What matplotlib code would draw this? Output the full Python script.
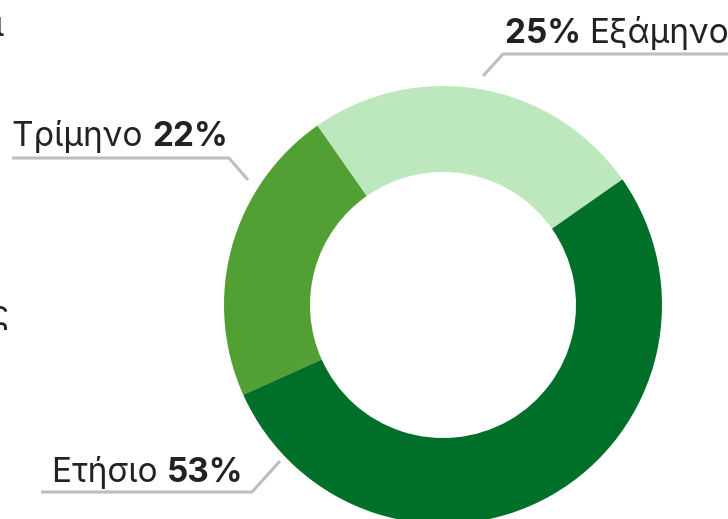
import matplotlib
matplotlib.use("Agg")
import matplotlib.pyplot as plt

# Data
categories = ["Εξάμηνο", "Τρίμηνο", "Ετήσιο"]
values = [25, 22, 53]
colors = ["#BDE8BE", "#529F33", "#006F29"]

W, H = 728, 519
fig = plt.figure(figsize=(W / 100, H / 100), dpi=100)
ax = fig.add_axes([0, 0, 1, 1])

def Y(y):
    return H - y

ax.pie(values, colors=colors, startangle=35, counterclock=True,
       center=(443, Y(305)), radius=219,
       wedgeprops=dict(width=219 - 133, linewidth=0))
ax.set_xlim(0, W)
ax.set_ylim(0, H)
ax.set_aspect("equal")
ax.axis("off")

FONT = ["Inter", "DejaVu Sans"]
TXT = "#222222"
LINE = "#B9BFC5"
FS = 24
GAP = 0

def label(x, y, parts):
    cur = x
    for s, w in parts:
        t = ax.text(cur, Y(y), s, fontsize=FS, fontweight=w, family=FONT,
                    color=TXT, ha="left", va="baseline")
        fig.canvas.draw()
        bb = t.get_window_extent()
        cur = bb.x1 + GAP

# Τρίμηνο 22%
label(12, 146, [("Τρίμηνο ", "normal"), ("22%", "bold")])
ax.plot([12, 229, 248], [Y(158), Y(158), Y(180)], color=LINE, lw=2.2,
        solid_capstyle="butt")

# Ετήσιο 53%
label(52, 482, [("Ετήσιο ", "normal"), ("53%", "bold")])
ax.plot([41, 252, 280], [Y(492), Y(492), Y(461)], color=LINE, lw=2.2,
        solid_capstyle="butt")

# 25% Εξάμηνο
label(505, 43, [("25% ", "bold"), ("Εξάμηνο", "normal")])
ax.plot([483, 503, W + 5], [Y(76), Y(54), Y(54)], color=LINE, lw=2.2,
        solid_capstyle="butt")

# cut-off fragments at the left edge
ax.text(4, Y(36), "ι", fontsize=FS, family=FONT, color=TXT, ha="right",
        va="baseline")
ax.text(8, Y(325), "ς", fontsize=FS, family=FONT, color=TXT, ha="right",
        va="baseline")

fig.savefig("out.png", dpi=100)
